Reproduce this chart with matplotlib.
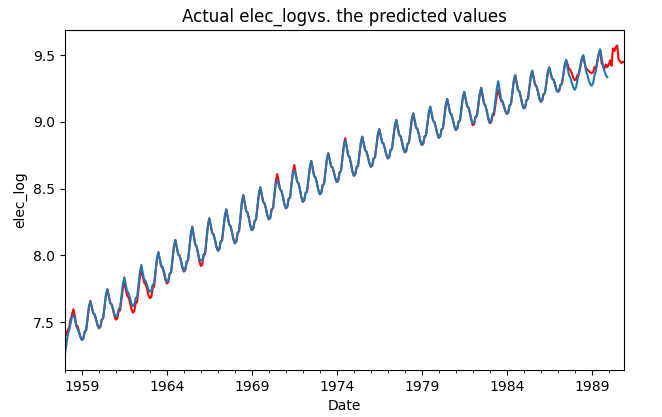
import numpy as np
import pandas as pd
import matplotlib
matplotlib.use('Agg')
import matplotlib.pyplot as plt

# log electricity, one row per year, Jan..Dec
actual = [
    [7.390, 7.410, 7.440, 7.460, 7.520, 7.560, 7.597, 7.550, 7.480, 7.470, 7.430, 7.390],  # 1958
    [7.367, 7.376, 7.431, 7.440, 7.528, 7.616, 7.660, 7.615, 7.568, 7.558, 7.523, 7.480],  # 1959
    [7.455, 7.464, 7.519, 7.528, 7.616, 7.703, 7.747, 7.697, 7.645, 7.634, 7.595, 7.547],  # 1960
    [7.520, 7.528, 7.582, 7.590, 7.674, 7.758, 7.800, 7.750, 7.697, 7.686, 7.647, 7.599],  # 1961
    [7.572, 7.582, 7.642, 7.652, 7.747, 7.842, 7.890, 7.844, 7.796, 7.785, 7.749, 7.705],  # 1962
    [7.680, 7.690, 7.756, 7.766, 7.869, 7.972, 8.024, 7.973, 7.919, 7.907, 7.867, 7.818],  # 1963
    [7.790, 7.800, 7.862, 7.872, 7.969, 8.067, 8.116, 8.064, 8.009, 7.998, 7.957, 7.907],  # 1964
    [7.879, 7.889, 7.953, 7.963, 8.064, 8.165, 8.215, 8.150, 8.083, 8.068, 8.018, 7.956],  # 1965
    [7.921, 7.932, 7.998, 8.010, 8.117, 8.224, 8.278, 8.225, 8.169, 8.157, 8.116, 8.065],  # 1966
    [8.036, 8.045, 8.104, 8.113, 8.206, 8.299, 8.345, 8.289, 8.231, 8.218, 8.175, 8.121],  # 1967
    [8.091, 8.102, 8.170, 8.181, 8.290, 8.398, 8.452, 8.394, 8.334, 8.321, 8.276, 8.221],  # 1968
    [8.190, 8.200, 8.260, 8.270, 8.366, 8.462, 8.510, 8.457, 8.402, 8.390, 8.349, 8.299],  # 1969
    [8.270, 8.280, 8.345, 8.355, 8.457, 8.559, 8.610, 8.553, 8.494, 8.482, 8.438, 8.384],  # 1970
    [8.353, 8.363, 8.424, 8.434, 8.531, 8.628, 8.677, 8.617, 8.553, 8.540, 8.493, 8.435],  # 1971
    [8.402, 8.411, 8.469, 8.478, 8.570, 8.661, 8.707, 8.652, 8.595, 8.583, 8.540, 8.488],  # 1972
    [8.458, 8.467, 8.526, 8.535, 8.627, 8.719, 8.765, 8.718, 8.668, 8.658, 8.621, 8.576],  # 1973
    [8.550, 8.560, 8.622, 8.632, 8.730, 8.828, 8.877, 8.815, 8.751, 8.737, 8.689, 8.631],  # 1974
    [8.597, 8.606, 8.661, 8.670, 8.758, 8.845, 8.889, 8.840, 8.788, 8.777, 8.738, 8.691],  # 1975
    [8.664, 8.672, 8.726, 8.735, 8.819, 8.904, 8.946, 8.898, 8.847, 8.837, 8.799, 8.753],  # 1976
    [8.727, 8.736, 8.790, 8.799, 8.885, 8.971, 9.014, 8.961, 8.905, 8.893, 8.852, 8.801],  # 1977
    [8.772, 8.781, 8.836, 8.845, 8.933, 9.020, 9.064, 9.012, 8.957, 8.946, 8.905, 8.855],  # 1978
    [8.827, 8.836, 8.890, 8.899, 8.984, 9.070, 9.113, 9.062, 9.009, 8.997, 8.958, 8.909],  # 1979
    [8.881, 8.890, 8.945, 8.954, 9.041, 9.128, 9.171, 9.120, 9.067, 9.055, 9.016, 8.967],  # 1980
    [8.939, 8.948, 9.002, 9.011, 9.096, 9.182, 9.225, 9.173, 9.119, 9.107, 9.067, 9.017],  # 1981
    [8.975, 8.983, 9.037, 9.045, 9.129, 9.213, 9.255, 9.197, 9.136, 9.123, 9.077, 9.022],  # 1982
    [8.990, 8.997, 9.045, 9.052, 9.126, 9.201, 9.238, 9.199, 9.158, 9.149, 9.119, 9.081],  # 1983
    [9.060, 9.069, 9.124, 9.133, 9.220, 9.307, 9.350, 9.295, 9.238, 9.226, 9.183, 9.131],  # 1984
    [9.101, 9.109, 9.163, 9.172, 9.256, 9.341, 9.383, 9.332, 9.279, 9.267, 9.228, 9.179],  # 1985
    [9.151, 9.159, 9.208, 9.215, 9.292, 9.369, 9.408, 9.368, 9.326, 9.317, 9.285, 9.247],  # 1986
    [9.225, 9.232, 9.277, 9.285, 9.356, 9.427, 9.463, 9.430, 9.396, 9.388, 9.363, 9.331],  # 1987
    [9.313, 9.318, 9.353, 9.359, 9.413, 9.468, 9.495, 9.440, 9.400, 9.390, 9.380, 9.370],  # 1988
    [9.365, 9.372, 9.410, 9.400, 9.460, 9.510, 9.540, 9.440, 9.420, 9.400, 9.430, 9.410],  # 1989
    [9.430, 9.460, 9.420, 9.550, 9.530, 9.560, 9.572, 9.465, 9.455, 9.440, 9.450, 9.445],  # 1990
]

predicted = [
    [7.259, 7.330, 7.400, 7.440, 7.490, 7.540, 7.555, 7.530, 7.470, 7.450, 7.420, 7.390],  # 1958
    [7.367, 7.376, 7.431, 7.440, 7.528, 7.612, 7.655, 7.615, 7.568, 7.558, 7.523, 7.480],  # 1959
    [7.455, 7.464, 7.519, 7.528, 7.616, 7.703, 7.747, 7.697, 7.645, 7.634, 7.600, 7.560],  # 1960
    [7.540, 7.550, 7.600, 7.610, 7.700, 7.790, 7.837, 7.780, 7.730, 7.720, 7.680, 7.640],  # 1961
    [7.620, 7.630, 7.680, 7.690, 7.780, 7.880, 7.929, 7.870, 7.820, 7.810, 7.780, 7.745],  # 1962
    [7.730, 7.735, 7.780, 7.790, 7.880, 7.975, 8.024, 7.975, 7.925, 7.915, 7.880, 7.830],  # 1963
    [7.800, 7.810, 7.865, 7.875, 7.969, 8.067, 8.116, 8.064, 8.009, 7.998, 7.960, 7.915],  # 1964
    [7.885, 7.895, 7.955, 7.965, 8.064, 8.165, 8.215, 8.150, 8.083, 8.068, 8.020, 7.970],  # 1965
    [7.966, 7.960, 8.010, 8.020, 8.117, 8.224, 8.278, 8.225, 8.169, 8.157, 8.116, 8.065],  # 1966
    [8.036, 8.045, 8.104, 8.113, 8.206, 8.299, 8.345, 8.289, 8.231, 8.218, 8.175, 8.121],  # 1967
    [8.091, 8.102, 8.170, 8.181, 8.290, 8.398, 8.452, 8.394, 8.334, 8.321, 8.276, 8.221],  # 1968
    [8.190, 8.200, 8.260, 8.270, 8.366, 8.462, 8.510, 8.457, 8.402, 8.390, 8.349, 8.299],  # 1969
    [8.270, 8.280, 8.345, 8.355, 8.457, 8.540, 8.565, 8.530, 8.494, 8.482, 8.438, 8.384],  # 1970
    [8.353, 8.363, 8.424, 8.434, 8.531, 8.610, 8.640, 8.600, 8.553, 8.540, 8.493, 8.435],  # 1971
    [8.402, 8.411, 8.469, 8.478, 8.570, 8.661, 8.707, 8.652, 8.595, 8.583, 8.540, 8.488],  # 1972
    [8.458, 8.467, 8.526, 8.535, 8.627, 8.719, 8.765, 8.718, 8.668, 8.658, 8.621, 8.576],  # 1973
    [8.550, 8.560, 8.622, 8.632, 8.730, 8.820, 8.860, 8.815, 8.751, 8.737, 8.689, 8.631],  # 1974
    [8.597, 8.606, 8.661, 8.670, 8.758, 8.845, 8.889, 8.840, 8.788, 8.777, 8.738, 8.691],  # 1975
    [8.664, 8.672, 8.726, 8.735, 8.819, 8.904, 8.946, 8.898, 8.847, 8.837, 8.799, 8.753],  # 1976
    [8.727, 8.736, 8.790, 8.799, 8.885, 8.971, 9.014, 8.961, 8.905, 8.893, 8.852, 8.801],  # 1977
    [8.772, 8.781, 8.836, 8.845, 8.933, 9.020, 9.064, 9.012, 8.957, 8.946, 8.905, 8.855],  # 1978
    [8.827, 8.836, 8.890, 8.899, 8.984, 9.070, 9.113, 9.062, 9.009, 8.997, 8.958, 8.909],  # 1979
    [8.881, 8.890, 8.945, 8.954, 9.041, 9.128, 9.171, 9.120, 9.067, 9.055, 9.016, 8.967],  # 1980
    [8.939, 8.948, 9.002, 9.011, 9.096, 9.182, 9.225, 9.173, 9.119, 9.107, 9.067, 9.017],  # 1981
    [8.989, 8.995, 9.040, 9.048, 9.129, 9.213, 9.255, 9.197, 9.136, 9.123, 9.077, 9.030],  # 1982
    [8.995, 9.005, 9.060, 9.070, 9.160, 9.250, 9.305, 9.240, 9.170, 9.155, 9.119, 9.081],  # 1983
    [9.060, 9.069, 9.124, 9.133, 9.220, 9.307, 9.350, 9.295, 9.238, 9.226, 9.183, 9.131],  # 1984
    [9.101, 9.109, 9.163, 9.172, 9.256, 9.341, 9.383, 9.332, 9.279, 9.267, 9.228, 9.179],  # 1985
    [9.151, 9.159, 9.208, 9.215, 9.292, 9.369, 9.408, 9.368, 9.326, 9.317, 9.285, 9.240],  # 1986
    [9.225, 9.232, 9.277, 9.285, 9.356, 9.427, 9.463, 9.400, 9.350, 9.330, 9.290, 9.260],  # 1987
    [9.240, 9.260, 9.320, 9.360, 9.420, 9.470, 9.500, 9.450, 9.380, 9.350, 9.310, 9.280],  # 1988
    [9.270, 9.290, 9.350, 9.380, 9.450, 9.510, 9.543, 9.480, 9.420, 9.380, 9.350, 9.335],  # 1989
]

start = '1958-01-01'

act_idx = pd.date_range(start, periods=12 * len(actual), freq='MS', name='Date')
pred_idx = pd.date_range(start, periods=12 * len(predicted), freq='MS', name='Date')
act = pd.Series(np.ravel(actual), index=act_idx)
pred = pd.Series(np.ravel(predicted), index=pred_idx)

fig, ax = plt.subplots(figsize=(6.62, 4.17), dpi=100)
act.plot(ax=ax, color='red')
pred.plot(ax=ax)
ax.set_title('Actual elec_logvs. the predicted values')
ax.set_ylabel('elec_log')
ax.set_xlabel('Date')
fig.subplots_adjust(left=0.098, right=0.943, top=0.928, bottom=0.113)
fig.savefig('out.png', dpi=100)
